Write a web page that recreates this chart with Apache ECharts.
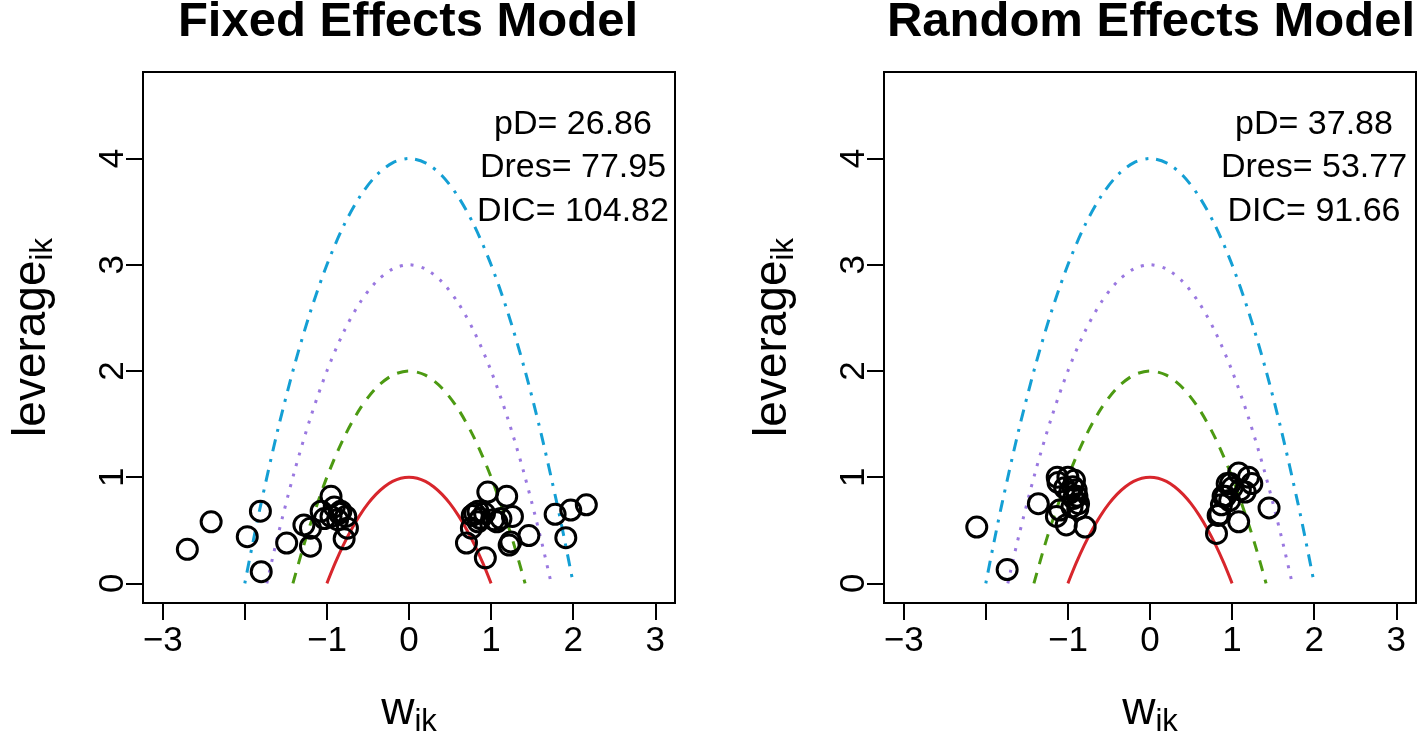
<!DOCTYPE html>
<html>
<head>
<meta charset="utf-8">
<script src="https://cdn.jsdelivr.net/npm/echarts@6/dist/echarts.min.js"></script>
<style>html,body{margin:0;padding:0;background:#fff;}#c{width:1418px;height:736px;}</style>
</head>
<body>
<div id="c"></div>
<script>
// ---- data ----
const panelTitles = ['Fixed Effects Model', 'Random Effects Model'];
const statsFixed = ['pD= 26.86', 'Dres= 77.95', 'DIC= 104.82'];
const statsRandom = ['pD= 37.88', 'Dres= 53.77', 'DIC= 91.66'];

const xTicks = [-3, -2, -1, 0, 1, 2, 3];
const xTickLabels = ['\u22123', '', '\u22121', '0', '1', '2', '3'];
const yTicks = [0, 1, 2, 3, 4];
const yTickLabels = ['0', '1', '2', '3', '4'];

// leverage contour curves
const curve1X = [-1, -0.9, -0.8, -0.7, -0.6, -0.5, -0.4, -0.3, -0.2, -0.1, 0, 0.1, 0.2, 0.3, 0.4, 0.5, 0.6, 0.7, 0.8, 0.9, 1];
const curve1Y = [0, 0.19, 0.36, 0.51, 0.64, 0.75, 0.84, 0.91, 0.96, 0.99, 1, 0.99, 0.96, 0.91, 0.84, 0.75, 0.64, 0.51, 0.36, 0.19, 0];
const curve2X = [-1.414, -1.3, -1.2, -1.0, -0.8, -0.6, -0.4, -0.2, 0, 0.2, 0.4, 0.6, 0.8, 1.0, 1.2, 1.3, 1.414];
const curve2Y = [0, 0.31, 0.56, 1, 1.36, 1.64, 1.84, 1.96, 2, 1.96, 1.84, 1.64, 1.36, 1, 0.56, 0.31, 0];
const curve3X = [-1.732, -1.6, -1.4, -1.2, -1.0, -0.8, -0.6, -0.4, -0.2, 0, 0.2, 0.4, 0.6, 0.8, 1.0, 1.2, 1.4, 1.6, 1.732];
const curve3Y = [0, 0.44, 1.04, 1.56, 2, 2.36, 2.64, 2.84, 2.96, 3, 2.96, 2.84, 2.64, 2.36, 2, 1.56, 1.04, 0.44, 0];
const curve4X = [-2, -1.9, -1.8, -1.6, -1.4, -1.2, -1, -0.8, -0.6, -0.4, -0.2, 0, 0.2, 0.4, 0.6, 0.8, 1, 1.2, 1.4, 1.6, 1.8, 1.9, 2];
const curve4Y = [0, 0.39, 0.76, 1.44, 2.04, 2.56, 3, 3.36, 3.64, 3.84, 3.96, 4, 3.96, 3.84, 3.64, 3.36, 3, 2.56, 2.04, 1.44, 0.76, 0.39, 0];

// Fixed effects model points (w_ik, leverage_ik)
const fixedW = [-2.70, -2.41, -1.81, -1.97, -1.80, -1.49, -1.20, -1.28, -1.20, -0.95, -1.07, -1.03, -0.91, -0.83, -0.77, -0.75, -0.79, -0.95, -0.87, -0.85,
  0.96, 1.19, 0.84, 0.77, 0.87, 1.03, 1.12, 1.26, 0.76, 0.70, 0.93, 1.24, 1.22, 1.46, 1.78, 1.97, 2.16, 1.91, 0.84, 1.07, 0.80, 0.92];
const fixedLev = [0.32, 0.58, 0.68, 0.44, 0.11, 0.38, 0.35, 0.55, 0.52, 0.82, 0.68, 0.61, 0.72, 0.68, 0.63, 0.52, 0.42, 0.63, 0.60, 0.66,
  0.86, 0.82, 0.68, 0.64, 0.61, 0.60, 0.61, 0.63, 0.52, 0.38, 0.24, 0.39, 0.36, 0.45, 0.65, 0.69, 0.74, 0.43, 0.58, 0.58, 0.66, 0.66];

// Random effects model points
const randomW = [-2.11, -1.74, -1.36, -1.13, -1.12, -1.00, -0.94, -0.89, -0.87, -0.98, -1.10, -1.14, -1.02, -0.79, -0.95, -1.04, -0.92, -0.90, -0.93, -0.88,
  0.81, 0.83, 1.08, 1.08, 0.94, 0.89, 0.97, 0.87, 1.10, 1.24, 1.16, 1.45, 1.20, 0.92, 1.00, 0.85, 0.98];
const randomLev = [0.53, 0.13, 0.75, 1.00, 0.95, 1.00, 0.91, 0.82, 0.75, 0.85, 0.69, 0.63, 0.55, 0.53, 0.72, 0.90, 0.97, 0.88, 0.80, 0.70,
  0.47, 0.64, 0.58, 1.04, 0.94, 0.82, 0.78, 0.74, 0.88, 0.94, 0.86, 0.71, 1.00, 0.82, 0.90, 0.65, 0.94];

// ---- chart ----
const FONT = '"Liberation Sans", Arial, Helvetica, sans-serif';
const zip = (a, b) => a.map((v, i) => [v, b[i]]);
const grids = [
  { left: 143, top: 72, width: 532, height: 531 },
  { left: 884, top: 72, width: 532, height: 531 }
];
const nameStyle = {
  color: '#000', fontSize: 46, fontFamily: FONT,
  rich: { sub: { fontSize: 31, fontFamily: FONT, color: '#000', padding: [22, 0, 0, 0] } }
};

function xAxis(gi) {
  return {
    type: 'value', gridIndex: gi, min: -3.24, max: 3.24,
    axisLine: { show: false, onZero: false }, splitLine: { show: false },
    axisTick: { show: true, inside: false, customValues: xTicks, length: 17, lineStyle: { color: '#000', width: 2 } },
    axisLabel: {
      customValues: xTicks, color: '#000', fontSize: 35, fontFamily: FONT, margin: 21,
      formatter: v => { const i = xTicks.indexOf(Math.round(v)); return i >= 0 ? xTickLabels[i] : ''; }
    },
    name: 'w{sub|ik}', nameLocation: 'middle', nameGap: 82,
    nameTextStyle: nameStyle
  };
}
function yAxis(gi) {
  return {
    type: 'value', gridIndex: gi, min: -0.185, max: 4.815,
    axisLine: { show: false, onZero: false }, splitLine: { show: false },
    axisTick: { show: true, inside: false, customValues: yTicks, length: 17, lineStyle: { color: '#000', width: 2 } },
    axisLabel: {
      customValues: yTicks, color: '#000', fontSize: 35, fontFamily: FONT, margin: 12, rotate: 90,
      formatter: v => { const i = yTicks.indexOf(Math.round(v)); return i >= 0 ? yTickLabels[i] : ''; }
    },
    name: 'leverage{sub|ik}', nameLocation: 'middle', nameGap: 84, nameRotate: 90,
    nameTextStyle: nameStyle
  };
}

function curveSeries(gi) {
  const mk = (xs, ys, color, type) => ({
    type: 'line', xAxisIndex: gi, yAxisIndex: gi, data: zip(xs, ys), showSymbol: false, smooth: 0.3,
    lineStyle: { color: color, width: 3, type: type }, silent: true, z: 3
  });
  return [
    mk(curve1X, curve1Y, '#D8262C', 'solid'),
    mk(curve2X, curve2Y, '#4C9A12', [11, 9]),
    mk(curve3X, curve3Y, '#9A78E0', [3, 8]),
    mk(curve4X, curve4Y, '#149FD4', [3, 8, 12, 8])
  ];
}
function pointSeries(gi, xs, ys) {
  return {
    type: 'scatter', xAxisIndex: gi, yAxisIndex: gi, data: zip(xs, ys),
    symbol: 'circle', symbolSize: 20,
    itemStyle: { color: 'rgba(0,0,0,0)', borderColor: '#000', borderWidth: 3, opacity: 1 },
    z: 4
  };
}

function statText(cx, lines) {
  const ys = [125, 168, 212];
  return lines.map((t, i) => ({
    type: 'text', x: cx, y: ys[i], z: 10,
    style: { text: t, fill: '#000', font: '34px ' + FONT, textAlign: 'center', textVerticalAlign: 'middle' }
  }));
}

const chart = echarts.init(document.getElementById('c'), null, { renderer: 'canvas' });
chart.setOption({
  backgroundColor: '#fff',
  animation: false,
  grid: grids.map(g => Object.assign({
    show: true, borderColor: '#000', borderWidth: 2, backgroundColor: 'transparent',
    containLabel: false, outerBoundsMode: 'none'
  }, g)),
  xAxis: [xAxis(0), xAxis(1)],
  yAxis: [yAxis(0), yAxis(1)],
  series: [
    ...curveSeries(0), pointSeries(0, fixedW, fixedLev),
    ...curveSeries(1), pointSeries(1, randomW, randomLev)
  ],
  graphic: [
    { type: 'text', x: 408, y: 22, z: 10, style: { text: panelTitles[0], fill: '#000', font: 'bold 49px ' + FONT, textAlign: 'center', textVerticalAlign: 'middle' } },
    { type: 'text', x: 1151, y: 22, z: 10, style: { text: panelTitles[1], fill: '#000', font: 'bold 49px ' + FONT, textAlign: 'center', textVerticalAlign: 'middle' } },
    ...statText(573, statsFixed),
    ...statText(1314, statsRandom)
  ]
});
</script>
</body>
</html>
